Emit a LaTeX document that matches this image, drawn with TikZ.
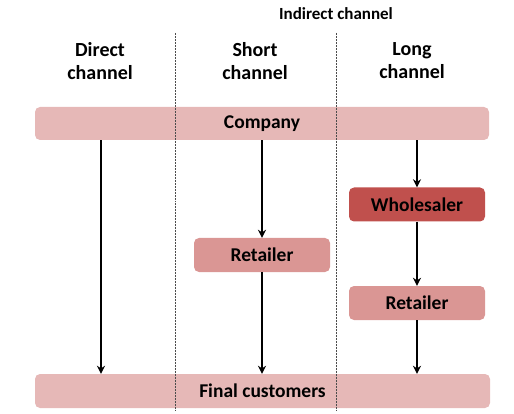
\documentclass[tikz,border=0pt]{standalone}
\usepackage{fontspec}
\setmainfont{Carlito}
\usetikzlibrary{arrows.meta}
\definecolor{barpink}{HTML}{E6B8B7}
\definecolor{midpink}{HTML}{DA9694}
\definecolor{darkred}{HTML}{C0504D}
\begin{document}
\begin{tikzpicture}[x=1pt,y=-1pt,
  bar/.style={fill=barpink,draw=none,rounded corners=5pt,minimum height=33pt,inner sep=0pt,font=\bfseries\fontsize{19.5}{22}\selectfont},
  box/.style={fill=midpink,draw=none,rounded corners=5pt,minimum width=136pt,minimum height=34pt,inner sep=0pt,font=\bfseries\fontsize{19.5}{22}\selectfont},
  head/.style={align=center,font=\bfseries\fontsize{20}{23}\selectfont},
  flow/.style={-{Stealth[length=8pt,width=8pt]},line width=1.6pt},
  sep/.style={densely dotted,line width=0.5pt,black!70}]
\useasboundingbox (0,0) rectangle (514,414);
\node[font=\bfseries\fontsize{17}{20}\selectfont] (ind) at (336,14) {Indirect channel};
\node[head] (hd) at (100,61) {Direct\\channel};
\node[head] (hs) at (255,61) {Short\\channel};
\node[head] (hl) at (412,61) {Long\\channel};
\node[bar,minimum width=454pt] (comp) at (262,123.5) {Company};
\node[bar,minimum width=455pt,minimum height=34pt] (cust) at (262.5,391) {Final customers};
\node[box] (ret1) at (262,255) {Retailer};
\node[box,fill=darkred] (whole) at (417,204.5) {Wholesaler};
\node[box] (ret2) at (417,303) {Retailer};
\coordinate (d1t) at (175,33); \coordinate (d1b) at (175,410);
\coordinate (d2t) at (336,33); \coordinate (d2b) at (336,410);
\draw[sep] (d1t) -- (d1b);
\draw[sep] (d2t) -- (d2b);
\draw[flow] (comp.south -| 101,0) -- (cust.north -| 101,0);
\draw[flow] (comp.south -| ret1.north) -- (ret1.north);
\draw[flow] (ret1.south) -- (cust.north -| ret1.south);
\draw[flow] (comp.south -| whole.north) -- (whole.north);
\draw[flow] (whole.south) -- (ret2.north);
\draw[flow] (ret2.south) -- (cust.north -| ret2.south);
\end{tikzpicture}
\end{document}
